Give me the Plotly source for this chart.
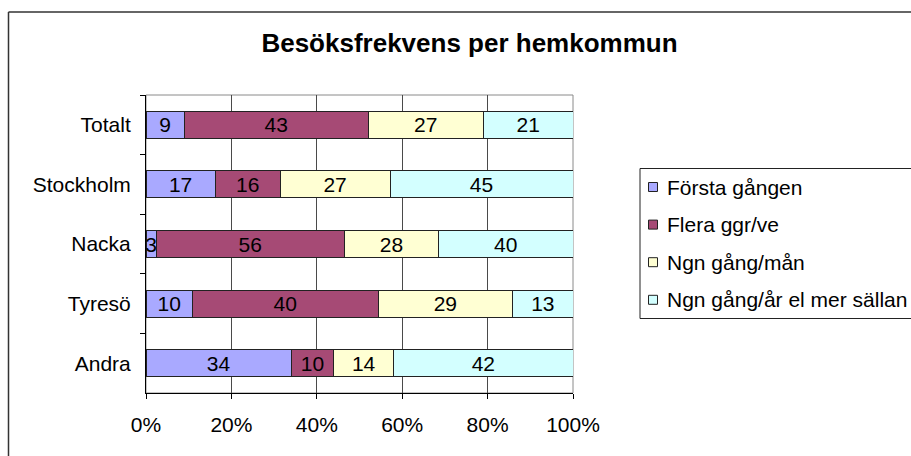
import plotly.graph_objects as go

# ---- data ----
categories = ["Totalt", "Stockholm", "Nacka", "Tyresö", "Andra"]
series_names = ["Första gången", "Flera ggr/ve", "Ngn gång/mån", "Ngn gång/år el mer sällan"]
forsta = [9, 17, 3, 10, 34]
flera = [43, 16, 56, 40, 10]
ngn_man = [27, 27, 28, 29, 14]
ngn_ar = [21, 45, 40, 13, 42]
series_values = [forsta, flera, ngn_man, ngn_ar]
colors = ["#A9A9FF", "#A64A75", "#FFFFD3", "#D3FFFF"]
tick_vals = [0, 20, 40, 60, 80, 100]
tick_text = ["0%", "20%", "40%", "60%", "80%", "100%"]
title_text = "Besöksfrekvens per hemkommun"

W, H = 911, 456
ML, MR, MT, MB = 146, 338, 95, 63
PW, PH = W - ML - MR, H - MT - MB
FONT = "Liberation Sans, Arial, sans-serif"


def px2x(px):
    return (px - ML) / PW


def px2y(py):
    return (H - MB - py) / PH


fig = go.Figure()
for name, vals, col in zip(series_names, series_values, colors):
    fig.add_trace(go.Bar(
        y=categories, x=vals, name=name, orientation="h",
        marker=dict(color=col, line=dict(color="#222222", width=1)),
        text=[str(v) for v in vals], textposition="inside",
        insidetextanchor="middle", textangle=0, constraintext="none",
        textfont=dict(family=FONT, size=21, color="black"),
        showlegend=False, hoverinfo="skip",
    ))

shapes = []
annotations = []


def hline(x0, x1, y, color, width, layer):
    return dict(type="line", xref="paper", yref="paper", x0=px2x(x0), x1=px2x(x1),
                y0=px2y(y), y1=px2y(y), line=dict(color=color, width=width), layer=layer)


def vline(x, y0, y1, color, width, layer):
    return dict(type="line", xref="paper", yref="paper", x0=px2x(x), x1=px2x(x),
                y0=px2y(y0), y1=px2y(y1), line=dict(color=color, width=width), layer=layer)


# outer chart border (top + left only visible; extends past right/bottom edges)
shapes.append(hline(8.5, W, 12, "#333333", 1.5, "below"))
shapes.append(vline(8.5, 12, H, "#333333", 1.5, "below"))
# plot area border (grey)
shapes.append(dict(type="rect", xref="paper", yref="paper", x0=0, x1=1, y0=0, y1=1,
                   line=dict(color="#8a8a8a", width=1), layer="below"))

# manual legend (box continues past the right edge)
LX0, LY0, LY1 = 640, 168.5, 318.5
shapes.append(hline(LX0, W, LY0, "#222222", 1, "above"))
shapes.append(hline(LX0, W, LY1, "#222222", 1, "above"))
shapes.append(vline(LX0, LY0, LY1, "#222222", 1, "above"))
for i, (name, col) in enumerate(zip(series_names, colors)):
    cy = 187 + i * 37.6
    shapes.append(dict(type="rect", xref="paper", yref="paper",
                       x0=px2x(648.5), x1=px2x(657.5), y0=px2y(cy + 4.5), y1=px2y(cy - 4.5),
                       line=dict(color="#222222", width=1), fillcolor=col, layer="above"))
    annotations.append(dict(xref="paper", yref="paper", x=px2x(667), y=px2y(cy),
                            text=name, showarrow=False, xanchor="left", yanchor="middle",
                            borderwidth=0, borderpad=0,
                            font=dict(family=FONT, size=21, color="black")))

fig.update_layout(
    width=W, height=H, autosize=False,
    margin=dict(l=ML, r=MR, t=MT, b=MB, pad=0),
    paper_bgcolor="white", plot_bgcolor="white",
    barmode="stack", barnorm="percent", bargap=0.55,
    title=dict(text="<b>" + title_text + "</b>", xref="container", yref="container",
               x=469.5 / W, y=1 - 42.5 / H, xanchor="center", yanchor="middle",
               font=dict(family=FONT, size=26, color="black")),
    xaxis=dict(range=[0, 100], tickvals=tick_vals, ticktext=tick_text,
               showgrid=True, gridcolor="#4a4a4a", gridwidth=1, zeroline=False,
               showline=True, linecolor="black", linewidth=1,
               ticks="outside", ticklen=5, tickcolor="black", ticklabelstandoff=8,
               tickfont=dict(family=FONT, size=21, color="black"), fixedrange=True),
    yaxis=dict(autorange="reversed", type="category", showgrid=False, zeroline=False,
               showline=True, linecolor="black", linewidth=1,
               ticks="outside", ticklen=5, tickcolor="black", tickson="boundaries",
               ticklabelstandoff=10,
               tickfont=dict(family=FONT, size=21, color="black"), fixedrange=True),
    shapes=shapes, annotations=annotations,
    font=dict(family=FONT, color="black"),
)

fig.write_html("out.html", config={"displayModeBar": False},
               post_script="document.body.style.margin='0';document.body.style.overflow='hidden';")
